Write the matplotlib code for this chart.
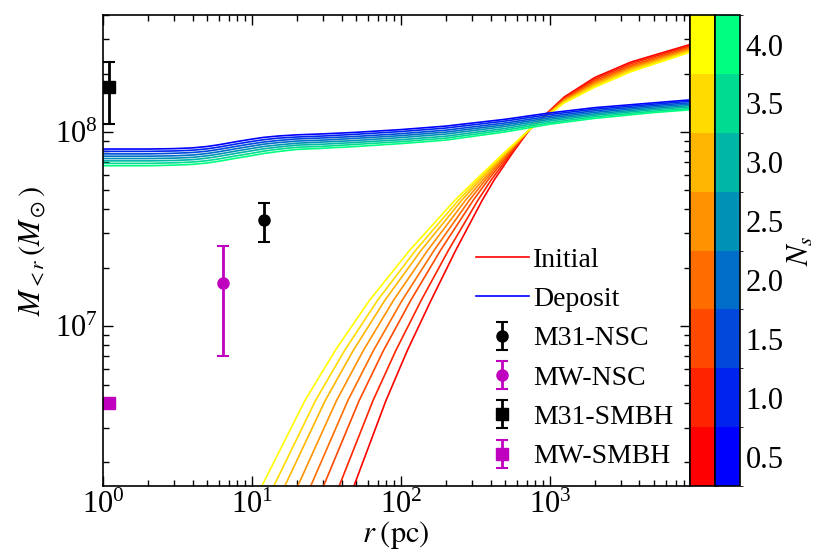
import numpy as np
import matplotlib
matplotlib.use("Agg")
import matplotlib.pyplot as plt
from matplotlib.colors import ListedColormap, BoundaryNorm
from matplotlib.cm import ScalarMappable
from matplotlib.lines import Line2D

plt.rcParams['font.family'] = ['Liberation Serif', 'DejaVu Serif']
plt.rcParams['mathtext.fontset'] = 'stix'

# Sersic index of each model
ns_values = [0.5, 1.0, 1.5, 2.0, 2.5, 3.0, 3.5, 4.0]

# initial profiles, inner part: log10(r/pc) where each curve reaches a given log10(M)
logm_levels = [5.9, 6.176, 6.616, 6.875, 7.133, 7.391, 7.649, 7.752, 7.89, 8.014]
logr_inner = [
    [1.560, 1.685, 1.900, 2.044, 2.203, 2.369, 2.547, 2.626, 2.748, 2.866],
    [1.454, 1.586, 1.813, 1.967, 2.137, 2.320, 2.518, 2.606, 2.739, 2.866],
    [1.341, 1.481, 1.720, 1.884, 2.067, 2.267, 2.487, 2.585, 2.729, 2.866],
    [1.247, 1.395, 1.644, 1.817, 2.009, 2.224, 2.461, 2.567, 2.721, 2.866],
    [1.154, 1.308, 1.568, 1.749, 1.951, 2.181, 2.435, 2.550, 2.713, 2.866],
    [1.061, 1.221, 1.492, 1.681, 1.893, 2.137, 2.410, 2.532, 2.704, 2.866],
    [0.981, 1.147, 1.427, 1.623, 1.844, 2.100, 2.388, 2.517, 2.698, 2.866],
    [0.895, 1.067, 1.356, 1.560, 1.790, 2.060, 2.364, 2.501, 2.690, 2.866],
]
# initial profiles, outer part: log10(M) at fixed radii
r_outer = [1250, 2000, 3500, 8700]
logm_outer = [
    [8.180, 8.280, 8.360, 8.450],
    [8.175, 8.272, 8.352, 8.444],
    [8.170, 8.263, 8.343, 8.437],
    [8.166, 8.256, 8.336, 8.431],
    [8.162, 8.250, 8.330, 8.426],
    [8.158, 8.243, 8.323, 8.420],
    [8.154, 8.236, 8.316, 8.415],
    [8.150, 8.230, 8.310, 8.410],
]

# deposited mass profiles, log10(M/Msun)
r_deposit = [1, 2, 3, 4, 5, 6, 7, 8, 10, 12, 15, 20, 30, 50, 100, 200, 500, 1000, 2000, 5000, 8700]
logm_deposit = [
    [7.912, 7.912, 7.914, 7.918, 7.925, 7.934, 7.943, 7.951, 7.963, 7.972, 7.979, 7.985, 7.990, 7.998, 8.012, 8.030, 8.065, 8.098, 8.125, 8.150, 8.165],
    [7.900, 7.900, 7.902, 7.906, 7.913, 7.922, 7.931, 7.939, 7.951, 7.960, 7.968, 7.974, 7.979, 7.988, 8.002, 8.020, 8.056, 8.090, 8.117, 8.143, 8.158],
    [7.887, 7.887, 7.890, 7.894, 7.901, 7.910, 7.919, 7.927, 7.939, 7.948, 7.956, 7.964, 7.969, 7.977, 7.991, 8.009, 8.046, 8.081, 8.109, 8.136, 8.150],
    [7.875, 7.875, 7.877, 7.881, 7.889, 7.898, 7.907, 7.915, 7.927, 7.937, 7.945, 7.953, 7.958, 7.967, 7.981, 7.999, 8.037, 8.073, 8.101, 8.129, 8.143],
    [7.863, 7.863, 7.865, 7.869, 7.877, 7.886, 7.895, 7.903, 7.915, 7.925, 7.933, 7.942, 7.948, 7.956, 7.971, 7.989, 8.028, 8.065, 8.093, 8.122, 8.136],
    [7.851, 7.851, 7.853, 7.857, 7.865, 7.874, 7.883, 7.891, 7.903, 7.913, 7.922, 7.932, 7.937, 7.946, 7.960, 7.978, 8.018, 8.057, 8.086, 8.115, 8.129],
    [7.838, 7.838, 7.841, 7.845, 7.852, 7.861, 7.870, 7.878, 7.890, 7.901, 7.911, 7.921, 7.926, 7.936, 7.950, 7.968, 8.009, 8.048, 8.078, 8.107, 8.121],
    [7.826, 7.826, 7.829, 7.833, 7.840, 7.849, 7.858, 7.866, 7.878, 7.889, 7.899, 7.910, 7.916, 7.925, 7.940, 7.958, 8.000, 8.040, 8.070, 8.100, 8.114],
]

# observed nuclei: (r, M, M_lo, M_hi)
m31_nsc = (12.0, 3.5e7, 2.7e7, 4.3e7)
mw_nsc = (6.4, 1.66e7, 7.0e6, 2.6e7)
m31_smbh = (1.1, 1.7e8, 1.1e8, 2.3e8)
mw_smbh = (1.1, 4.0e6, 3.9e6, 4.1e6)

bounds = np.arange(0.25, 4.3, 0.5)
cmap_init = ListedColormap(plt.cm.autumn(np.linspace(0, 1, len(ns_values))))
cmap_dep = ListedColormap(plt.cm.winter(np.linspace(0, 1, len(ns_values))))
norm = BoundaryNorm(bounds, len(ns_values))

fig = plt.figure(figsize=(8.3, 5.58), dpi=100)
ax = fig.add_axes([0.124, 0.129, 0.707, 0.844])

for ns, lr, lm in zip(ns_values, logr_inner, logm_outer):
    r = np.concatenate([10 ** np.array(lr), r_outer])
    m = np.concatenate([10 ** np.array(logm_levels), 10 ** np.array(lm)])
    ax.plot(r, m, color=cmap_init(norm(ns)), lw=1.2)
for ns, lm in zip(ns_values, logm_deposit):
    ax.plot(r_deposit, 10 ** np.array(lm), color=cmap_dep(norm(ns)), lw=1.2)


def obs(ax, p, color, marker, label):
    r, m, lo, hi = p
    return ax.errorbar([r], [m], yerr=[[m - lo], [hi - m]], fmt=marker, color=color,
                       ms=8, elinewidth=2, capsize=4, capthick=1.5, label=label)


h1 = obs(ax, m31_nsc, 'k', 'o', 'M31-NSC')
h2 = obs(ax, mw_nsc, 'm', 'o', 'MW-NSC')
h3 = obs(ax, m31_smbh, 'k', 's', 'M31-SMBH')
h4 = obs(ax, mw_smbh, 'm', 's', 'MW-SMBH')

ax.set_xscale('log')
ax.set_yscale('log')
ax.set_xlim(1, 8700)
ax.set_ylim(1.5e6, 4e8)
ax.tick_params(which='both', direction='in', top=True, right=True, labelsize=22, width=1)
ax.tick_params(which='major', length=7)
ax.tick_params(which='minor', length=4)
for s in ax.spines.values():
    s.set_linewidth(1.2)
ax.set_xlabel(r'$r\;\mathrm{(pc)}$', fontsize=22, labelpad=-1)
ax.set_ylabel(r'$M_{<r}\,(M_\odot)$', fontsize=22, labelpad=6)

handles = [Line2D([], [], color='red', lw=1.2), Line2D([], [], color='blue', lw=1.2), h1, h2, h3, h4]
labels = ['Initial', 'Deposit', 'M31-NSC', 'MW-NSC', 'M31-SMBH', 'MW-SMBH']
ax.legend(handles, labels, loc='lower right', frameon=False, fontsize=20,
          handlelength=1.9, handletextpad=0.15, borderaxespad=0.2, labelspacing=0.5)

cax1 = fig.add_axes([0.8315, 0.129, 0.030, 0.844])
cax2 = fig.add_axes([0.8615, 0.129, 0.030, 0.844])
cb1 = fig.colorbar(ScalarMappable(norm=norm, cmap=cmap_init), cax=cax1, ticks=[])
cb2 = fig.colorbar(ScalarMappable(norm=norm, cmap=cmap_dep), cax=cax2, ticks=ns_values)
cb2.ax.tick_params(labelsize=22, length=0, pad=4)
cb2.set_label(r'$N_s$', fontsize=22, labelpad=2)
for cb in (cb1, cb2):
    cb.outline.set_linewidth(1.2)

fig.savefig('out.png', dpi=100)
